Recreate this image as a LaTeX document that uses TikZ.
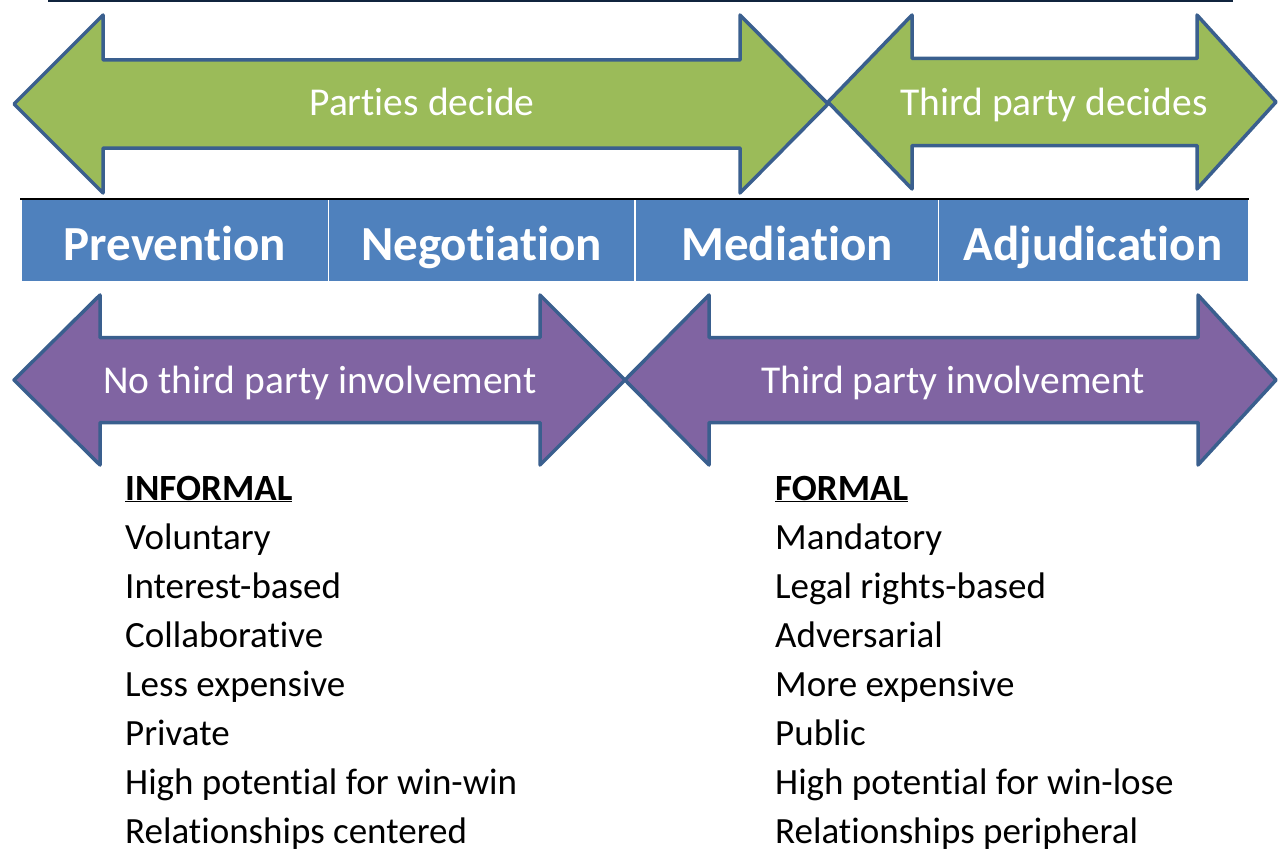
\documentclass[tikz,border=0pt]{standalone}
\usepackage{fontspec}
\setmainfont{Carlito}[Ligatures={NoCommon}]
\definecolor{arrgreen}{HTML}{9BBB59}
\definecolor{arrpurple}{HTML}{8064A2}
\definecolor{barblue}{HTML}{4F81BD}
\definecolor{edgeblue}{HTML}{3A5F8E}
\definecolor{topnavy}{HTML}{10243E}
\newcommand{\dblarrow}[8]{% fill, xl, xr, yc, headL, headR, halfhead, halfshaft
  \filldraw[fill=#1, draw=edgeblue, line width=3.5pt, line join=round]
    (#2,#4) -- (#2+#5,#4-#7) -- (#2+#5,#4-#8) -- (#3-#6,#4-#8) -- (#3-#6,#4-#7)
    -- (#3,#4) -- (#3-#6,#4+#7) -- (#3-#6,#4+#8) -- (#2+#5,#4+#8) -- (#2+#5,#4+#7) -- cycle;}
\tikzset{
  arrtext/.style={text=white, inner sep=0pt, anchor=base, font=\fontsize{39.5}{39.5}\selectfont},
  celltext/.style={text=white, inner sep=0pt, anchor=base, font=\fontsize{49}{49}\selectfont\bfseries},
  listtext/.style={text=black, inner sep=0pt, anchor=base west, font=\fontsize{37}{37}\selectfont},
  divider/.style={draw=white, line width=1.5pt}
}
\begin{document}
\begin{tikzpicture}[x=1pt,y=-1pt]
\useasboundingbox (0,0) rectangle (1278,851);
% top line
\draw[topnavy, line width=2.5pt] (48,1) -- (1233,1);
% green arrows
\dblarrow{arrgreen}{14}{828}{104}{89}{88}{89}{44}
\dblarrow{arrgreen}{828}{1276}{102}{84}{79}{87}{43.5}
\node[arrtext] (pd) at (422,116) {Parties decide};
\node[arrtext] (tpd) at (1054,115) {Third party decides};
% bar
\fill[barblue] (22,200) rectangle (1248,281);
\draw[black, line width=1.5pt] (20,199) -- (1249,199);
\draw[divider] (328.5,200) -- (328.5,281);
\draw[divider] (635,200) -- (635,281);
\draw[divider] (938.5,200) -- (938.5,281);
\node[celltext] (prev) at (175,260) {Prevention};
\node[celltext] (nego) at (481.5,260) {Negotiation};
\node[celltext] (medi) at (787,260) {Mediation};
\node[celltext] (adju) at (1093,260) {Adjudication};
% purple arrows
\dblarrow{arrpurple}{14}{625}{380}{86}{85}{85}{42.5}
\dblarrow{arrpurple}{625}{1276}{380}{84}{78}{85}{42.5}
\node[arrtext] (ntp) at (320,393) {No third party involvement};
\node[arrtext] (tpi) at (953,393) {Third party involvement};
% lists
\node[listtext] (inf0) at (125,500) {\underline{\textbf{INFORMAL}}};
\node[listtext] (inf1) at (125,549) {Voluntary};
\node[listtext] (inf2) at (125,598) {Interest-based};
\node[listtext] (inf3) at (125,647) {Collaborative};
\node[listtext] (inf4) at (125,696) {Less expensive};
\node[listtext] (inf5) at (125,745) {Private};
\node[listtext] (inf6) at (125,794) {High potential for win-win};
\node[listtext] (inf7) at (125,843) {Relationships centered};
\node[listtext] (for0) at (775,500) {\underline{\textbf{FORMAL}}};
\node[listtext] (for1) at (775,549) {Mandatory};
\node[listtext] (for2) at (775,598) {Legal rights-based};
\node[listtext] (for3) at (775,647) {Adversarial};
\node[listtext] (for4) at (775,696) {More expensive};
\node[listtext] (for5) at (775,745) {Public};
\node[listtext] (for6) at (775,794) {High potential for win-lose};
\node[listtext] (for7) at (775,843) {Relationships peripheral};
\end{tikzpicture}
\end{document}
